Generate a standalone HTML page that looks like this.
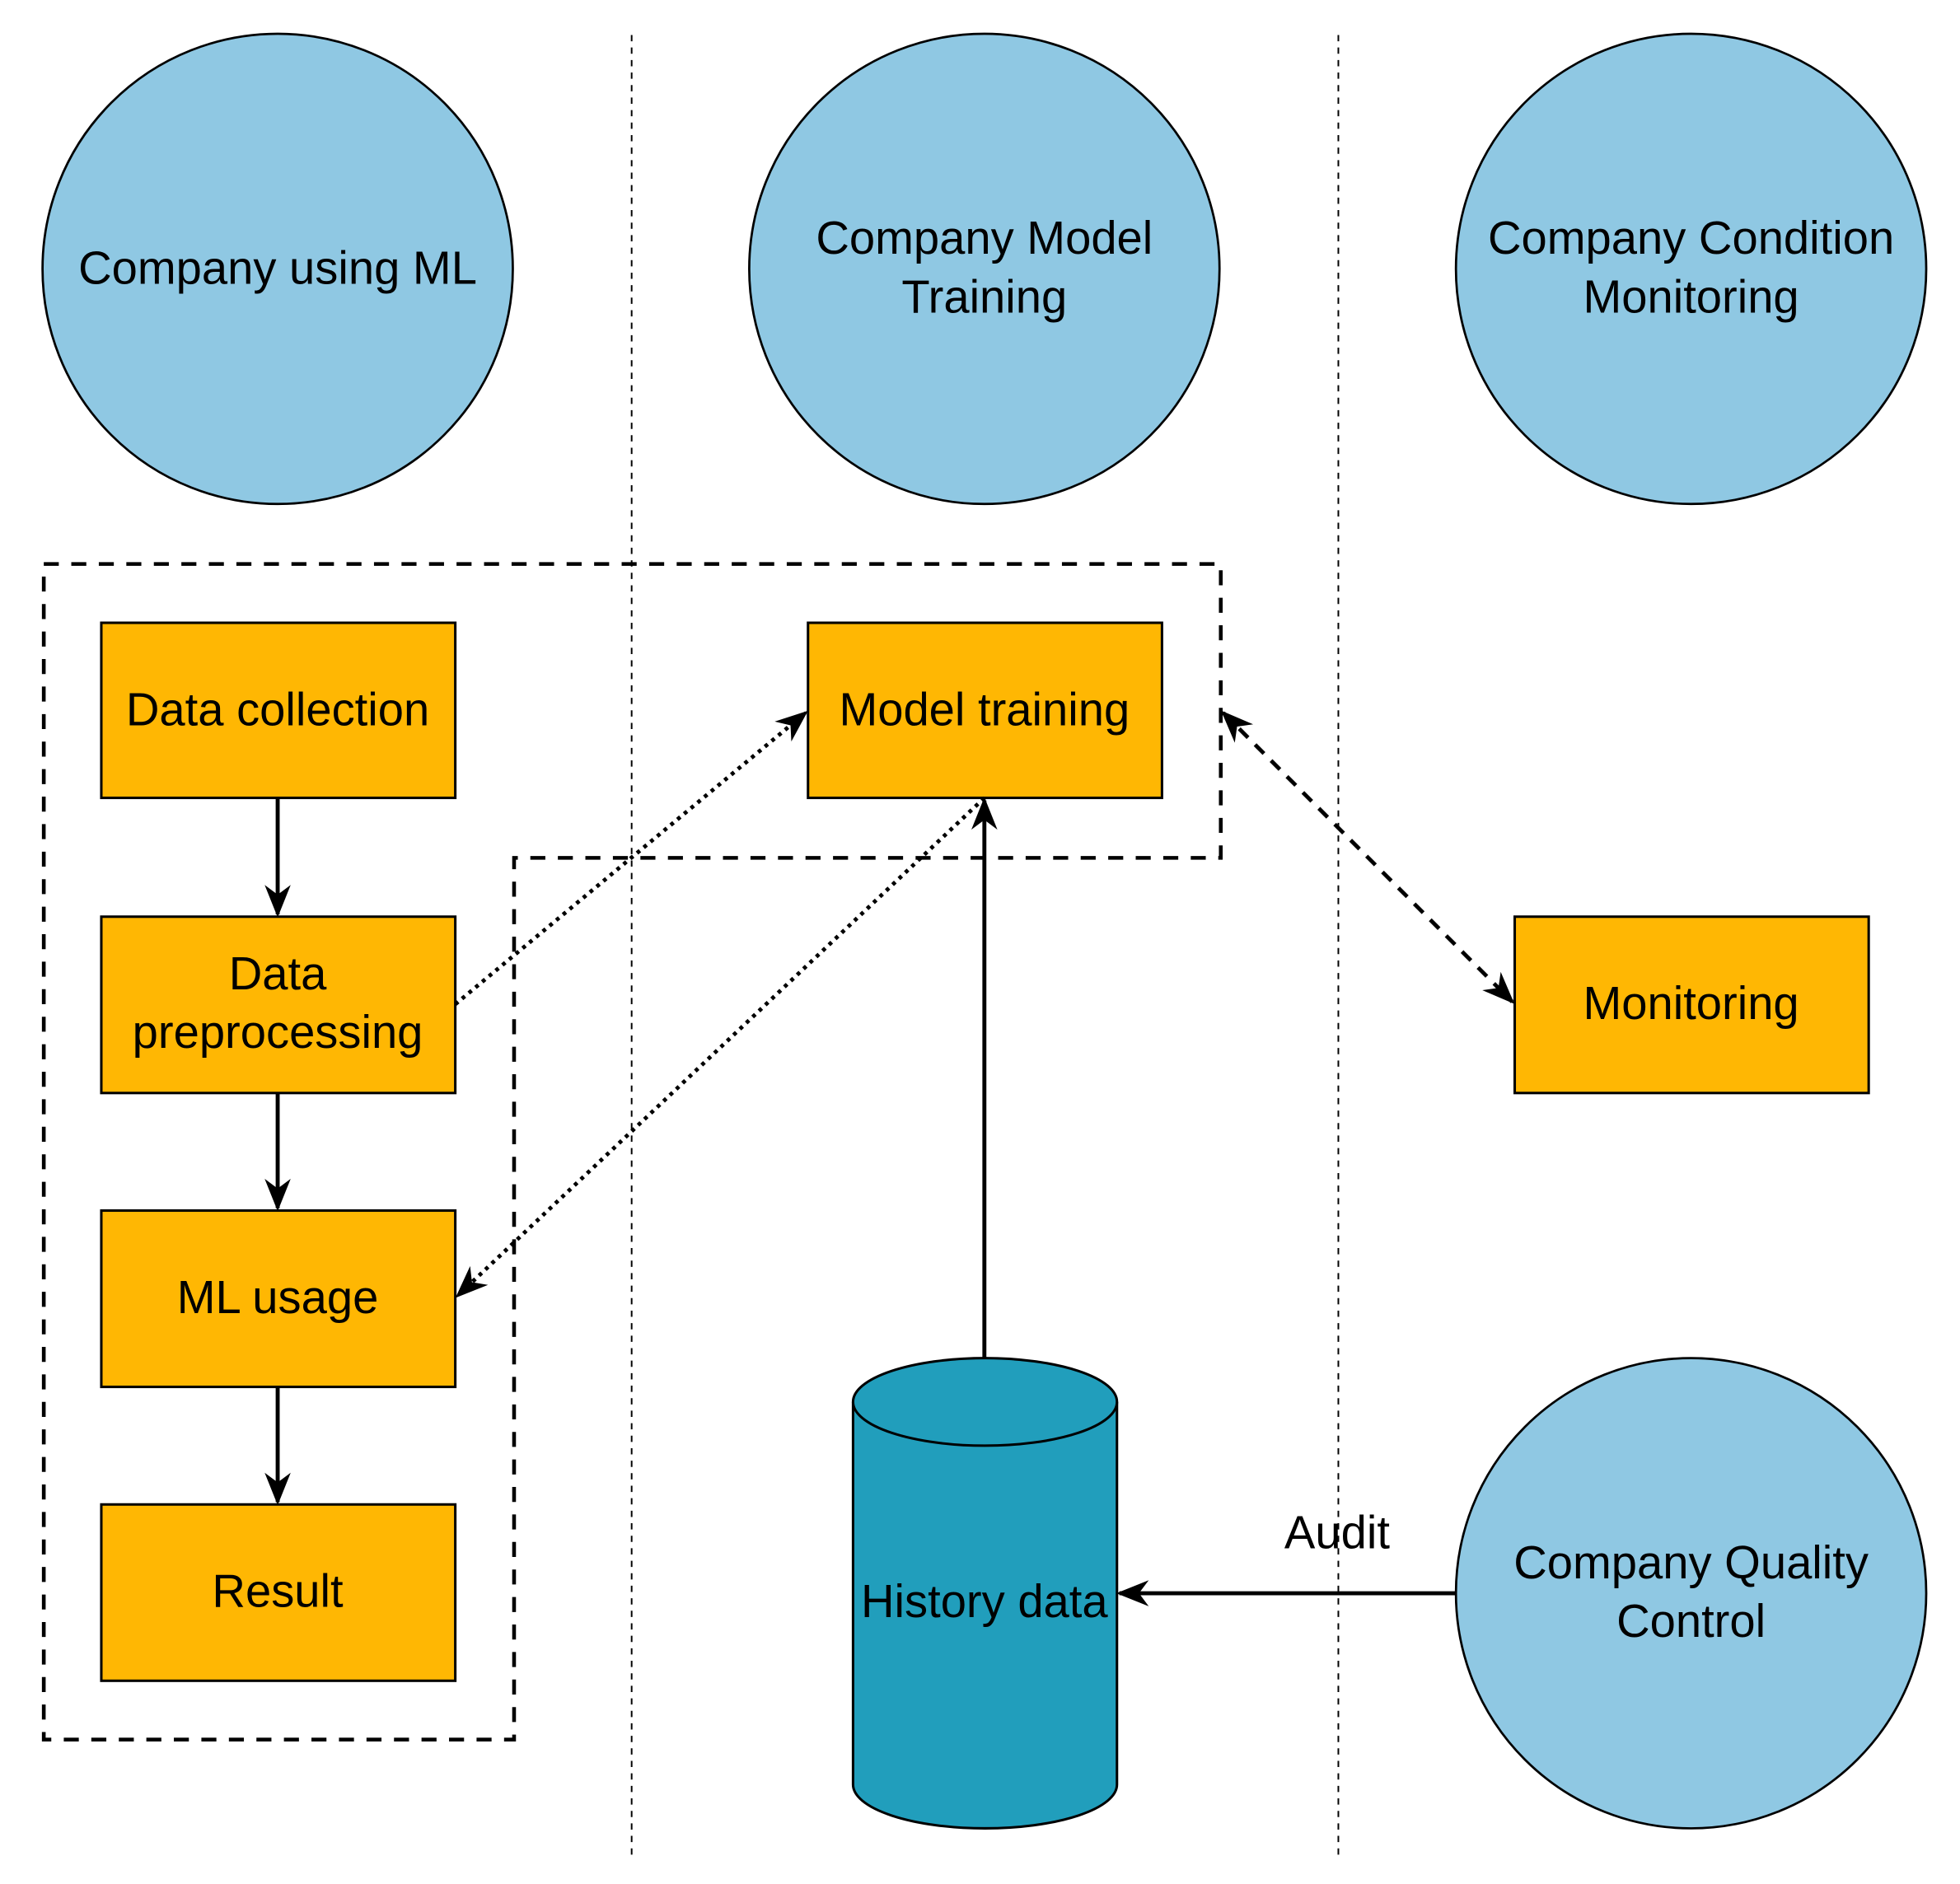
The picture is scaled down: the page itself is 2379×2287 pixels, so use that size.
<!DOCTYPE html>
<html><head><style>html,body{margin:0;padding:0;background:#fff}svg{display:block}</style></head>
<body>
<svg width="2379" height="2287" viewBox="0 0 1567 1506.5" preserveAspectRatio="none" xmlns="http://www.w3.org/2000/svg" font-family="Liberation Sans, Arial, sans-serif">
<defs>
<marker id="a2" viewBox="0 0 10 10" refX="9" refY="5" markerWidth="26" markerHeight="26" markerUnits="userSpaceOnUse" orient="auto-start-reverse">
<path d="M0,1 L10,5 L0,9 L3,5 Z" fill="#000"/>
</marker>
</defs>
<line x1="505" y1="28" x2="505" y2="1485" stroke="#000" stroke-width="1.3" stroke-dasharray="5,5"/>
<line x1="1070" y1="28" x2="1070" y2="1485" stroke="#000" stroke-width="1.3" stroke-dasharray="5,5"/>
<g fill="#8fc8e3" stroke="#000" stroke-width="1.8">
<circle cx="222" cy="215" r="188"/>
<circle cx="787" cy="215" r="188"/>
<circle cx="1352" cy="215" r="188"/>
<circle cx="1352" cy="1274" r="188"/>
</g>
<path d="M35,451 H976 V686 H411 V1391 H35 Z" fill="none" stroke="#000" stroke-width="3" stroke-dasharray="12,10"/>
<g fill="#ffb703" stroke="#000" stroke-width="2">
<rect x="81" y="498" width="283" height="140"/>
<rect x="81" y="733" width="283" height="141"/>
<rect x="81" y="968" width="283" height="141"/>
<rect x="81" y="1203" width="283" height="141"/>
<rect x="646" y="498" width="283" height="140"/>
<rect x="1211" y="733" width="283" height="141"/>
</g>
<path d="M682,1121 V1427 A105.5,35 0 0 0 893,1427 V1121" fill="#219ebc" stroke="#000" stroke-width="2"/>
<ellipse cx="787.5" cy="1121" rx="105.5" ry="35" fill="#219ebc" stroke="#000" stroke-width="2"/>
<g stroke="#000" stroke-width="3.2" fill="none">
<line x1="222" y1="638" x2="222" y2="731" marker-end="url(#a2)"/>
<line x1="222" y1="874" x2="222" y2="966" marker-end="url(#a2)"/>
<line x1="222" y1="1109" x2="222" y2="1201" marker-end="url(#a2)"/>
<line x1="787" y1="1086" x2="787" y2="640" marker-end="url(#a2)"/>
<line x1="1164" y1="1274" x2="895" y2="1274" marker-end="url(#a2)"/>
<line x1="364" y1="803" x2="644" y2="570" stroke-dasharray="3,4" marker-end="url(#a2)"/>
<line x1="787" y1="638" x2="366" y2="1036" stroke-dasharray="3,4" marker-end="url(#a2)"/>
<line x1="978" y1="570" x2="1209" y2="801" stroke-dasharray="10,8" marker-start="url(#a2)" marker-end="url(#a2)"/>
</g>
<g font-size="37" text-anchor="middle" fill="#000">
<text x="222" y="227">Company using ML</text>
<text x="787" y="203">Company Model</text>
<text x="787" y="250">Training</text>
<text x="1352" y="203">Company Condition</text>
<text x="1352" y="250">Monitoring</text>
<text x="1352" y="1262">Company Quality</text>
<text x="1352" y="1309">Control</text>
<text x="222" y="580">Data collection</text>
<text x="222" y="791">Data</text>
<text x="222" y="838">preprocessing</text>
<text x="222" y="1050">ML usage</text>
<text x="222" y="1285">Result</text>
<text x="787" y="580">Model training</text>
<text x="1352" y="815">Monitoring</text>
<text x="787" y="1293">History data</text>
<text x="1069" y="1238">Audit</text>
</g>
</svg>
</body></html>
